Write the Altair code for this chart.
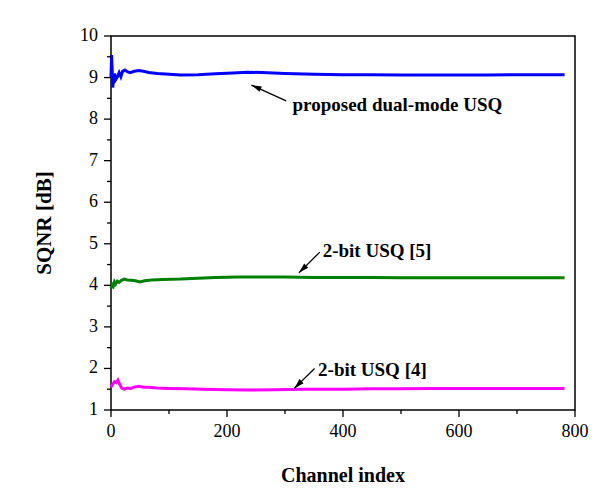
import altair as alt
import pandas as pd

# SQNR per channel for three quantizers
ch_dual = [0, 1, 2, 3, 4, 6, 8, 11, 14, 17, 20, 24, 28, 33, 40, 48, 56, 65, 80, 100,
           120, 150, 180, 210, 235, 260, 300, 350, 400, 450, 500, 550, 600, 650, 700, 750, 782]
sqnr_dual = [9.0, 9.54, 9.2, 8.76, 8.9, 9.1, 8.95, 9.02, 9.12, 9.02, 9.15, 9.18, 9.14, 9.12,
             9.15, 9.17, 9.15, 9.12, 9.1, 9.08, 9.06, 9.07, 9.09, 9.11, 9.13, 9.12, 9.1, 9.08,
             9.07, 9.07, 9.06, 9.06, 9.06, 9.06, 9.07, 9.07, 9.07]

ch_usq5 = [0, 2, 4, 6, 8, 11, 14, 18, 23, 28, 35, 42, 50, 58, 70, 90, 120, 150, 180, 220,
           260, 300, 350, 400, 450, 500, 550, 600, 650, 700, 750, 782]
sqnr_usq5 = [3.93, 4.02, 3.98, 4.08, 4.03, 4.1, 4.07, 4.12, 4.15, 4.13, 4.12, 4.11, 4.08,
             4.11, 4.13, 4.14, 4.15, 4.17, 4.19, 4.2, 4.2, 4.2, 4.19, 4.19, 4.19, 4.18, 4.18,
             4.18, 4.18, 4.18, 4.18, 4.18]

ch_usq4 = [0, 3, 6, 9, 12, 15, 19, 23, 28, 34, 40, 48, 56, 65, 80, 100, 130, 160, 200, 240,
           280, 330, 400, 450, 500, 550, 600, 650, 700, 750, 782]
sqnr_usq4 = [1.55, 1.62, 1.68, 1.66, 1.72, 1.62, 1.52, 1.5, 1.53, 1.52, 1.55, 1.57, 1.55,
             1.55, 1.53, 1.52, 1.51, 1.5, 1.49, 1.48, 1.49, 1.5, 1.5, 1.51, 1.51, 1.52, 1.52,
             1.52, 1.52, 1.52, 1.52]

series_names = ["proposed dual-mode USQ", "2-bit USQ [5]", "2-bit USQ [4]"]
series_colors = ["#0000FF", "#008000", "#FF00FF"]

# axis ticks: labelled majors and unlabelled minors
x_major = [0, 200, 400, 600, 800]
x_tick_labels = ["0", "200", "400", "600", "800"]
x_minor = [100, 300, 500, 700]
y_major = [1, 2, 3, 4, 5, 6, 7, 8, 9, 10]
y_tick_labels = ["1", "2", "3", "4", "5", "6", "7", "8", "9", "10"]
y_minor = [1.5, 2.5, 3.5, 4.5, 5.5, 6.5, 7.5, 8.5, 9.5]
x_title = "Channel index"
y_title = "SQNR [dB]"

# annotation labels: text, anchor channel, anchor SQNR
label_text = ["proposed dual-mode USQ", "2-bit USQ [5]", "2-bit USQ [4]"]
label_ch = [313, 365, 357]
label_val = [8.20, 4.69, 1.82]

# arrows: tail (ch, value) -> tip (ch, value), head rotation in degrees
arrow_tail_ch = [302, 360, 351]
arrow_tail_val = [8.44, 4.80, 2.00]
arrow_tip_ch = [242, 324, 316]
arrow_tip_val = [8.82, 4.30, 1.52]
arrow_angle = [294, 225, 225]

FONT = "Liberation Serif"

frames = []
for name, xs, ys in [(series_names[0], ch_dual, sqnr_dual),
                     (series_names[1], ch_usq5, sqnr_usq5),
                     (series_names[2], ch_usq4, sqnr_usq4)]:
    frames.append(pd.DataFrame({"ch": xs, "sqnr": ys, "series": name}))
lines_df = pd.concat(frames, ignore_index=True)

labels_df = pd.DataFrame({"text": label_text, "ch": label_ch, "sqnr": label_val})

shaft_rows = []
for i in range(3):
    shaft_rows.append({"id": i, "ord": 0, "ch": arrow_tail_ch[i], "sqnr": arrow_tail_val[i]})
    shaft_rows.append({"id": i, "ord": 1, "ch": arrow_tip_ch[i], "sqnr": arrow_tip_val[i]})
shaft_df = pd.DataFrame(shaft_rows)
head_df = pd.DataFrame({"ch": arrow_tip_ch, "sqnr": arrow_tip_val, "angle": arrow_angle})

W, H = 464, 374
x_scale = alt.Scale(domain=[0, 800], nice=False)
y_scale = alt.Scale(domain=[1, 10], nice=False)


def X(field="ch"):
    return alt.X(f"{field}:Q", scale=x_scale, axis=None)


def Y(field="sqnr"):
    return alt.Y(f"{field}:Q", scale=y_scale, axis=None)


lines = alt.Chart(lines_df).mark_line(strokeWidth=3, interpolate="linear").encode(
    x=X(), y=Y(),
    color=alt.Color("series:N", scale=alt.Scale(domain=series_names, range=series_colors),
                    legend=None),
)


# outward tick marks, placed by the shared scales
def x_ticks(values, length):
    return alt.Chart(pd.DataFrame({"ch": values})).mark_rule(
        color="black", strokeWidth=1.3
    ).encode(x=X(), y=alt.value(H), y2=alt.value(H + length))


def y_ticks(values, length):
    return alt.Chart(pd.DataFrame({"sqnr": values})).mark_rule(
        color="black", strokeWidth=1.3
    ).encode(y=Y(), x=alt.value(-length), x2=alt.value(0))


x_labels = alt.Chart(pd.DataFrame({"ch": x_major, "t": x_tick_labels})).mark_text(
    font=FONT, fontSize=18, color="black", align="center", baseline="top"
).encode(x=X(), y=alt.value(H + 13), text="t:N")

y_labels = alt.Chart(pd.DataFrame({"sqnr": y_major, "t": y_tick_labels})).mark_text(
    font=FONT, fontSize=18, color="black", align="right", baseline="middle"
).encode(y=Y(), x=alt.value(-13), text="t:N")

x_title_mark = alt.Chart(pd.DataFrame({"t": [x_title]})).mark_text(
    font=FONT, fontSize=20, fontWeight="bold", color="black", align="center",
    baseline="alphabetic"
).encode(x=alt.value(W / 2), y=alt.value(H + 72), text="t:N")

y_title_mark = alt.Chart(pd.DataFrame({"t": [y_title]})).mark_text(
    font=FONT, fontSize=21, fontWeight="bold", color="black", align="center",
    baseline="middle", angle=270
).encode(x=alt.value(-66), y=alt.value(H / 2), text="t:N")

shafts = alt.Chart(shaft_df).mark_line(color="black", strokeWidth=1.3).encode(
    x=X(), y=Y(), detail="id:N", order="ord:Q"
)

heads = alt.Chart(head_df).mark_point(
    shape="M0,0L0.28,1L-0.28,1Z", filled=True, color="black", opacity=1, size=420
).encode(x=X(), y=Y(), angle=alt.Angle("angle:Q", scale=None))

labels = alt.Chart(labels_df).mark_text(
    align="left", baseline="alphabetic", font=FONT, fontSize=19, fontWeight="bold",
    color="black"
).encode(x=X(), y=Y(), text="text:N")

chart = alt.layer(
    lines, shafts, heads, labels,
    x_ticks(x_major, 7), x_ticks(x_minor, 4), y_ticks(y_major, 7), y_ticks(y_minor, 4),
    x_labels, y_labels, x_title_mark, y_title_mark,
).properties(
    width=W, height=H,
    autosize=alt.AutoSizeParams(type="none"),
    padding={"left": 111, "top": 36, "right": 36, "bottom": 87},
    background="white",
).configure_view(
    stroke="black", strokeWidth=1.5, clip=False
)

chart.save("out.html", embed_options={"renderer": "svg", "actions": False})
